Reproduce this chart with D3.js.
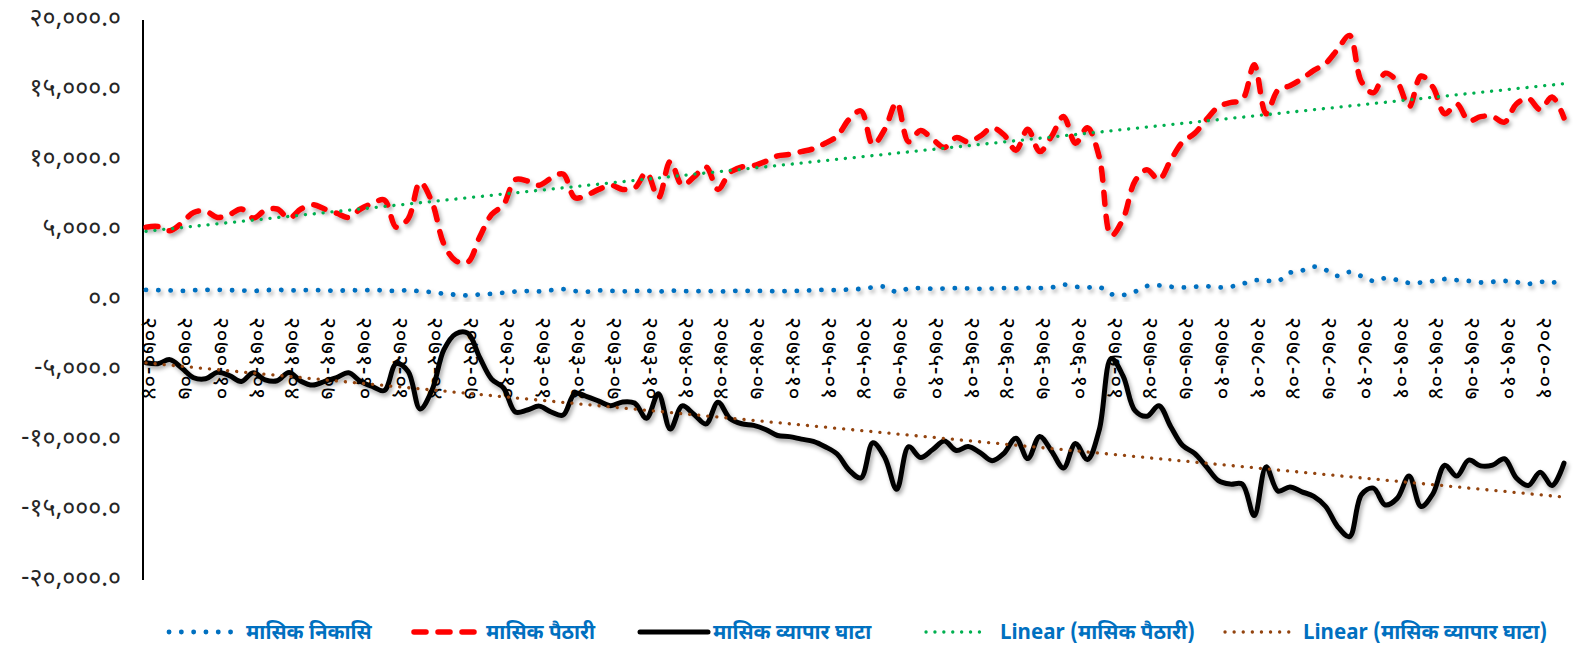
<html>
<head>
<script src="https://d3js.org/d3.v7.min.js"></script>
<style>
  body { margin: 0; background: #fff; }
  text { font-family: "Noto Sans Devanagari", "Lohit Devanagari", "Noto Sans", "DejaVu Sans", sans-serif; }
</style>
</head>
<body>
<svg id="chart" width="1585" height="652"></svg>
<script>
// monthly categories (Nepali calendar, fiscal year 2070/71 .. 2079/80)
var months = [
  "२०७०-०४","२०७०-०५","२०७०-०६","२०७०-०७","२०७०-०८","२०७०-०९","२०७०-१०","२०७०-११","२०७०-१२","२०७१-०१","२०७१-०२","२०७१-०३",
  "२०७१-०४","२०७१-०५","२०७१-०६","२०७१-०७","२०७१-०८","२०७१-०९","२०७१-१०","२०७१-११","२०७१-१२","२०७२-०१","२०७२-०२","२०७२-०३",
  "२०७२-०४","२०७२-०५","२०७२-०६","२०७२-०७","२०७२-०८","२०७२-०९","२०७२-१०","२०७२-११","२०७२-१२","२०७३-०१","२०७३-०२","२०७३-०३",
  "२०७३-०४","२०७३-०५","२०७३-०६","२०७३-०७","२०७३-०८","२०७३-०९","२०७३-१०","२०७३-११","२०७३-१२","२०७४-०१","२०७४-०२","२०७४-०३",
  "२०७४-०४","२०७४-०५","२०७४-०६","२०७४-०७","२०७४-०८","२०७४-०९","२०७४-१०","२०७४-११","२०७४-१२","२०७५-०१","२०७५-०२","२०७५-०३",
  "२०७५-०४","२०७५-०५","२०७५-०६","२०७५-०७","२०७५-०८","२०७५-०९","२०७५-१०","२०७५-११","२०७५-१२","२०७६-०१","२०७६-०२","२०७६-०३",
  "२०७६-०४","२०७६-०५","२०७६-०६","२०७६-०७","२०७६-०८","२०७६-०९","२०७६-१०","२०७६-११","२०७६-१२","२०७७-०१","२०७७-०२","२०७७-०३",
  "२०७७-०४","२०७७-०५","२०७७-०६","२०७७-०७","२०७७-०८","२०७७-०९","२०७७-१०","२०७७-११","२०७७-१२","२०७८-०१","२०७८-०२","२०७८-०३",
  "२०७८-०४","२०७८-०५","२०७८-०६","२०७८-०७","२०७८-०८","२०७८-०९","२०७८-१०","२०७८-११","२०७८-१२","२०७९-०१","२०७९-०२","२०७९-०३",
  "२०७९-०४","२०७९-०५","२०७९-०६","२०७९-०७","२०७९-०८","२०७९-०९","२०७९-१०","२०७९-११","२०७९-१२","२०८०-०१","२०८०-०२","२०८०-०३"
];

// मासिक निकासि (exports)
var exportsM = [
  720,700,690,650,700,720,730,700,680,650,700,730,
  680,700,720,690,660,700,690,720,680,650,700,620,
  560,450,380,330,400,450,520,600,640,620,700,780,
  640,600,680,650,620,640,660,600,680,640,620,650,
  600,640,660,640,650,620,640,660,700,720,700,750,
  800,900,950,580,820,850,800,820,850,830,800,820,
  850,830,870,850,900,1100,950,900,930,420,360,600,
  1000,1050,950,900,950,980,900,950,1150,1400,1380,1350,
  1950,2100,2380,2150,1720,2000,1700,1360,1560,1430,1220,1250,
  1360,1500,1420,1360,1250,1300,1360,1280,1150,1300,1250,1350
];

// मासिक पैठारी (imports)
var importsM = [
  5200,5250,4950,5500,6250,6350,5900,6100,6500,5850,6400,6500,
  5850,6500,6800,6500,6200,5900,6500,6900,7150,5200,5800,8400,
  7000,4000,2800,2700,4500,6100,6800,8600,8500,8200,8700,9000,
  7300,7500,7900,8200,7900,8000,9100,7300,9900,8200,8800,9500,
  7900,9100,9500,9600,9900,10300,10400,10600,10800,11200,11700,12900,
  13500,11100,12200,14100,11300,12100,11500,10900,11600,11300,11700,12300,
  11800,10700,12200,10600,11700,13100,11200,12300,10200,4600,5800,8500,
  9300,8600,10000,11300,11900,12900,13800,14100,14300,16800,13300,15000,
  15300,15800,16400,16900,17900,18900,15600,14800,16200,15600,13800,16000,
  15200,13300,14000,12800,13100,13100,12700,14000,14400,13600,14500,13000
];

// मासिक व्यापार घाटा (trade deficit)
var deficitM = [
  -4480,-4550,-4260,-4850,-5550,-5630,-5170,-5400,-5820,-5200,-5700,-5770,
  -5170,-5800,-6080,-5810,-5540,-5200,-5810,-6180,-6470,-4550,-5100,-7780,
  -6440,-3550,-2420,-2370,-4100,-5650,-6280,-8000,-7860,-7580,-8000,-8220,
  -6660,-6900,-7220,-7550,-7280,-7360,-8440,-6700,-9220,-7560,-8180,-8850,
  -7300,-8460,-8840,-8960,-9250,-9680,-9760,-9940,-10100,-10480,-11000,-12150,
  -12700,-10200,-11250,-13520,-10480,-11250,-10700,-10080,-10750,-10470,-10900,-11480,
  -10950,-9870,-11330,-9750,-10800,-12000,-10250,-11400,-9270,-4180,-5440,-7900,
  -8300,-7550,-9050,-10400,-10950,-11920,-12900,-13150,-13150,-15400,-11920,-13650,
  -13350,-13700,-14020,-14750,-16180,-16900,-13900,-13440,-14640,-14170,-12580,-14750,
  -13840,-11800,-12580,-11440,-11850,-11800,-11340,-12720,-13250,-12300,-13250,-11650
];

var yTicks = [-20000,-15000,-10000,-5000,0,5000,10000,15000,20000];

var devDigits = "०१२३४५६७८९";
function toDev(s) {
  return s.replace(/[0-9]/g, function(d) { return devDigits[+d]; });
}

var svg = d3.select("#chart");

var defs = svg.append("defs");
defs.append("filter")
    .attr("id", "shadow")
    .attr("x", "-5%").attr("y", "-10%")
    .attr("width", "110%").attr("height", "130%")
  .append("feDropShadow")
    .attr("dx", 2).attr("dy", 3)
    .attr("stdDeviation", 2)
    .attr("flood-color", "#000")
    .attr("flood-opacity", 0.35);

var x = d3.scalePoint()
    .domain(months)
    .range([146, 1564]);

var y = d3.scaleLinear()
    .domain([-20000, 20000])
    .range([580, 20]);

// y axis
svg.append("line")
    .attr("x1", 143).attr("x2", 143)
    .attr("y1", y(20000)).attr("y2", y(-20000))
    .attr("stroke", "#000")
    .attr("stroke-width", 2);

svg.append("g")
  .selectAll("text")
  .data(yTicks)
  .enter().append("text")
    .attr("x", 121)
    .attr("y", function(d) { return y(d) - 3; })
    .attr("dy", "0.35em")
    .attr("text-anchor", "end")
    .attr("font-size", 25)
    .attr("fill", "#262626")
    .text(function(d) { return toDev(d3.format(",.1f")(d)).replace("−", "-"); });

// x axis at zero
var xAxis = svg.append("g")
    .attr("transform", "translate(0," + y(0) + ")")
    .call(d3.axisBottom(x)
      .tickValues(months.filter(function(d, i) { return i % 3 == 0; }))
      .tickSize(0)
      .tickSizeOuter(0));

xAxis.select(".domain")
    .attr("d", "M143,0H1566")
    .attr("stroke", "#d4d4d4")
    .attr("stroke-width", 2)
    .attr("filter", "url(#shadow)");

xAxis.selectAll("text")
    .attr("transform", "rotate(90)")
    .attr("x", 17)
    .attr("y", -4)
    .attr("dy", "0.35em")
    .attr("text-anchor", "start")
    .attr("font-size", 23)
    .attr("letter-spacing", 0.5)
    .attr("font-family", "\"Noto Sans Devanagari\", \"Lohit Devanagari\", \"Noto Sans\", sans-serif")
    .attr("fill", "#000");

var line = function(values) {
  return d3.line()
    .x(function(d, i) { return x(months[i]); })
    .y(function(d) { return y(d); })
    .curve(d3.curveCatmullRom.alpha(0.5))(values);
};

// linear trend (least squares) for a series
function trend(values) {
  var n = values.length, sx = 0, sy = 0, sxy = 0, sxx = 0;
  values.forEach(function(v, i) { sx += i; sy += v; sxy += i * v; sxx += i * i; });
  var b = (n * sxy - sx * sy) / (n * sxx - sx * sx);
  var a = (sy - b * sx) / n;
  return [a, a + b * (n - 1)];
}

var styles = {
  exp:   { stroke: "#0070C0", width: 4.8, dash: "0.1 12.2", cap: "round" },
  imp:   { stroke: "#FF0000", width: 5.5, dash: "12 12", cap: "round" },
  def:   { stroke: "#000000", width: 5, dash: null, cap: "round" },
  tImp:  { stroke: "#00B050", width: 3.3, dash: "0.1 8.8", cap: "round" },
  tDef:  { stroke: "#93440F", width: 3.3, dash: "0.1 9", cap: "round" }
};

function styled(sel, s) {
  sel.attr("fill", "none")
     .attr("stroke", s.stroke)
     .attr("stroke-width", s.width)
     .attr("stroke-linecap", s.cap)
     .attr("stroke-linejoin", "round");
  if (s.dash) sel.attr("stroke-dasharray", s.dash);
  return sel;
}

styled(svg.append("path").attr("d", line(exportsM)).attr("filter", "url(#shadow)"), styles.exp);
styled(svg.append("path").attr("d", line(importsM)).attr("filter", "url(#shadow)"), styles.imp);
styled(svg.append("path").attr("d", line(deficitM)).attr("filter", "url(#shadow)"), styles.def);

var ti = trend(importsM);
styled(svg.append("line")
    .attr("x1", x(months[0])).attr("y1", y(ti[0]))
    .attr("x2", x(months[months.length - 1]) + 4).attr("y2", y(ti[1])), styles.tImp);

var td = trend(deficitM);
styled(svg.append("line")
    .attr("x1", x(months[0])).attr("y1", y(td[0]))
    .attr("x2", x(months[months.length - 1]) + 4).attr("y2", y(td[1])), styles.tDef);

// legend
var legend = [
  { name: "मासिक निकासि", s: styles.exp, x0: 169, x1: 238, tx: 246 },
  { name: "मासिक पैठारी", s: styles.imp, x0: 414, x1: 480, tx: 486 },
  { name: "मासिक व्यापार घाटा", s: styles.def, x0: 640, x1: 708, tx: 713 },
  { name: "Linear (मासिक पैठारी)", s: styles.tImp, x0: 926, x1: 987, tx: 1000 },
  { name: "Linear (मासिक व्यापार घाटा)", s: styles.tDef, x0: 1225, x1: 1290, tx: 1303 }
];
var ly = 632;
legend.forEach(function(d) {
  svg.append("text")
      .attr("x", d.tx)
      .attr("y", ly)
      .attr("dy", "0.35em")
      .attr("font-size", 20.5)
      .attr("font-weight", "bold")
      .attr("fill", "#0070C0")
      .text(d.name);
  styled(svg.append("line")
      .attr("x1", d.x0).attr("x2", d.x1)
      .attr("y1", ly).attr("y2", ly), d.s);
});
</script>
</body>
</html>
